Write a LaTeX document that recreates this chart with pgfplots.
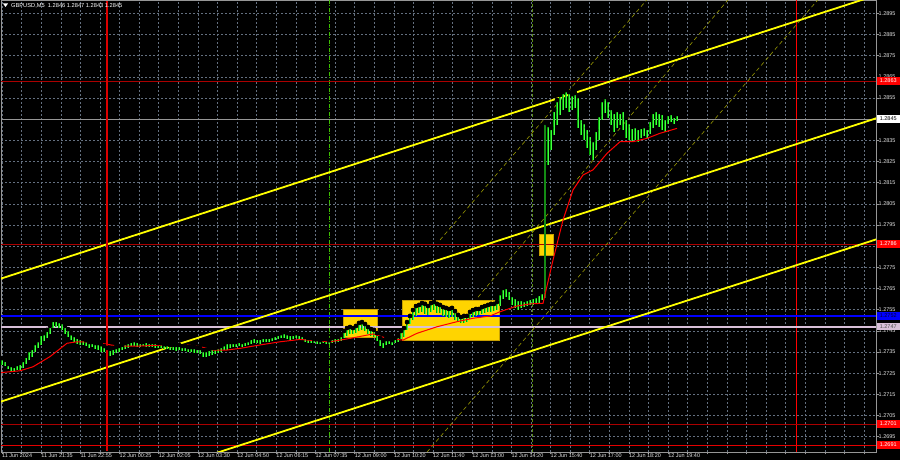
\documentclass[border=0pt]{standalone}
\usepackage{fontspec}
\setmainfont{Liberation Sans}
\usepackage{pgfplots}
\usepackage{pgfplotstable}
\pgfplotsset{compat=1.18}
\definecolor{gridc}{RGB}{100,112,128}
\definecolor{axisg}{RGB}{150,150,150}
\definecolor{labc}{RGB}{225,225,225}
\definecolor{cgreen}{RGB}{0,165,0}
\definecolor{clime}{RGB}{70,255,70}
\definecolor{darkg}{RGB}{20,140,20}
\definecolor{gold}{RGB}{255,212,0}
\definecolor{goldb}{RGB}{200,160,0}
\definecolor{chyel}{RGB}{255,255,0}
\definecolor{dashyel}{RGB}{150,150,0}
\definecolor{darkred}{RGB}{170,0,0}
\definecolor{vred}{RGB}{220,0,0}
\definecolor{thistle}{RGB}{216,191,216}
\definecolor{vgreen}{RGB}{60,190,0}
\definecolor{vgreen2}{RGB}{90,140,20}
\newcommand{\lab}{\fontsize{5.5}{6}\selectfont}

\pgfplotstableread{
x hi lo
2 1.27321 1.27288
5 1.27312 1.27284
8 1.27293 1.27269
11 1.27288 1.27260
14 1.27284 1.27260
17 1.27293 1.27265
20 1.27298 1.27265
23 1.27312 1.27274
26 1.27331 1.27293
29 1.27359 1.27312
32 1.27369 1.27326
35 1.27392 1.27350
38 1.27406 1.27369
41 1.27435 1.27383
44 1.27439 1.27402
47 1.27454 1.27416
50 1.27473 1.27435
53 1.27501 1.27463
56 1.27501 1.27468
59 1.27496 1.27463
62 1.27491 1.27454
65 1.27473 1.27435
68 1.27458 1.27421
71 1.27439 1.27406
74 1.27430 1.27397
77 1.27421 1.27387
80 1.27416 1.27383
83 1.27411 1.27383
86 1.27406 1.27378
89 1.27397 1.27369
92 1.27397 1.27373
95 1.27392 1.27364
98 1.27392 1.27359
101 1.27387 1.27350
104 1.27378 1.27350
107 1.27369 1.27340
110 1.27364 1.27331
113 1.27369 1.27336
116 1.27373 1.27345
119 1.27378 1.27350
122 1.27383 1.27359
125 1.27392 1.27364
128 1.27397 1.27369
131 1.27402 1.27378
134 1.27406 1.27378
137 1.27402 1.27373
140 1.27397 1.27373
143 1.27397 1.27378
146 1.27402 1.27373
149 1.27397 1.27373
152 1.27397 1.27373
155 1.27397 1.27369
158 1.27392 1.27369
161 1.27392 1.27369
164 1.27387 1.27364
167 1.27387 1.27364
170 1.27383 1.27359
173 1.27383 1.27359
176 1.27383 1.27354
179 1.27383 1.27359
182 1.27378 1.27354
185 1.27378 1.27354
188 1.27373 1.27350
191 1.27373 1.27350
194 1.27373 1.27345
197 1.27369 1.27345
200 1.27369 1.27340
203 1.27359 1.27326
206 1.27359 1.27326
209 1.27364 1.27331
212 1.27369 1.27336
215 1.27369 1.27340
218 1.27373 1.27345
221 1.27378 1.27350
224 1.27387 1.27359
227 1.27397 1.27359
230 1.27397 1.27369
233 1.27397 1.27373
236 1.27397 1.27373
239 1.27402 1.27378
242 1.27397 1.27373
245 1.27402 1.27378
248 1.27406 1.27383
251 1.27416 1.27387
254 1.27421 1.27392
257 1.27416 1.27392
260 1.27416 1.27387
263 1.27421 1.27397
266 1.27421 1.27397
269 1.27421 1.27397
272 1.27425 1.27402
275 1.27430 1.27406
278 1.27435 1.27411
281 1.27439 1.27416
284 1.27444 1.27416
287 1.27439 1.27411
290 1.27435 1.27406
293 1.27435 1.27411
296 1.27439 1.27416
299 1.27435 1.27411
302 1.27430 1.27406
305 1.27421 1.27397
308 1.27416 1.27392
311 1.27416 1.27392
314 1.27411 1.27392
317 1.27411 1.27387
320 1.27406 1.27387
323 1.27411 1.27392
326 1.27411 1.27387
329 1.27406 1.27387
332 1.27416 1.27392
335 1.27421 1.27397
338 1.27421 1.27397
341 1.27430 1.27402
344 1.27449 1.27416
347 1.27463 1.27425
350 1.27468 1.27435
353 1.27463 1.27435
356 1.27473 1.27439
359 1.27487 1.27449
362 1.27491 1.27454
365 1.27482 1.27449
368 1.27468 1.27435
371 1.27458 1.27425
374 1.27454 1.27421
377 1.27439 1.27402
380 1.27416 1.27378
383 1.27402 1.27369
386 1.27411 1.27383
389 1.27411 1.27387
392 1.27406 1.27383
395 1.27416 1.27392
398 1.27425 1.27397
401 1.27449 1.27411
404 1.27463 1.27421
407 1.27491 1.27454
410 1.27520 1.27482
413 1.27548 1.27501
416 1.27567 1.27520
419 1.27572 1.27534
422 1.27581 1.27539
425 1.27577 1.27529
428 1.27567 1.27525
431 1.27581 1.27539
434 1.27586 1.27548
437 1.27577 1.27534
440 1.27572 1.27534
443 1.27562 1.27520
446 1.27558 1.27515
449 1.27553 1.27510
452 1.27558 1.27515
455 1.27543 1.27501
458 1.27525 1.27491
461 1.27515 1.27487
464 1.27520 1.27487
467 1.27520 1.27491
470 1.27539 1.27506
473 1.27548 1.27515
476 1.27553 1.27520
479 1.27553 1.27525
482 1.27562 1.27529
485 1.27567 1.27534
488 1.27572 1.27539
491 1.27577 1.27539
494 1.27577 1.27543
497 1.27586 1.27548
500 1.27628 1.27567
503 1.27652 1.27600
506 1.27657 1.27610
509 1.27643 1.27595
512 1.27619 1.27572
515 1.27610 1.27558
518 1.27600 1.27548
521 1.27600 1.27558
524 1.27595 1.27562
527 1.27600 1.27567
530 1.27605 1.27572
533 1.27610 1.27572
536 1.27614 1.27577
539 1.27624 1.27581
542 1.27633 1.27595
548 1.28422 1.28233
551 1.28408 1.28304
554 1.28493 1.28375
557 1.28540 1.28422
560 1.28564 1.28469
563 1.28578 1.28493
566 1.28587 1.28502
569 1.28578 1.28484
572 1.28568 1.28493
575 1.28573 1.28502
578 1.28559 1.28408
581 1.28455 1.28375
584 1.28436 1.28351
587 1.28408 1.28313
590 1.28375 1.28280
593 1.28351 1.28257
596 1.28399 1.28304
599 1.28469 1.28351
602 1.28540 1.28446
605 1.28554 1.28479
608 1.28540 1.28455
611 1.28502 1.28422
614 1.28484 1.28389
617 1.28493 1.28408
620 1.28484 1.28422
623 1.28493 1.28399
626 1.28455 1.28361
629 1.28436 1.28351
632 1.28413 1.28342
635 1.28417 1.28351
638 1.28408 1.28342
641 1.28413 1.28361
644 1.28417 1.28370
647 1.28408 1.28361
650 1.28446 1.28380
653 1.28484 1.28408
656 1.28493 1.28422
659 1.28484 1.28413
662 1.28479 1.28399
665 1.28455 1.28389
668 1.28474 1.28427
671 1.28479 1.28436
674 1.28465 1.28427
677 1.28474 1.28441
}\candles

\pgfplotstableread{
x y
0 1.27252
20 1.27261
33 1.27280
50 1.27328
67 1.27391
77 1.27398
93 1.27398
117 1.27378
140 1.27378
167 1.27383
187 1.27383
200 1.27375
213 1.27359
227 1.27359
240 1.27367
260 1.27383
280 1.27398
300 1.27409
330 1.27398
350 1.27414
373 1.27435
387 1.27414
403 1.27406
417 1.27438
437 1.27469
457 1.27493
473 1.27509
490 1.27520
500 1.27540
517 1.27567
530 1.27577
543 1.27580
553 1.27784
563 1.27973
573 1.28115
583 1.28186
593 1.28210
607 1.28288
620 1.28343
633 1.28343
647 1.28359
660 1.28383
677 1.28406
}\ma

\begin{document}
\begin{tikzpicture}[x=1pt,y=1pt]
\fill[black] (0,0) rectangle (900,460);
\begin{axis}[
  at={(1pt,8pt)}, anchor=south west,
  scale only axis, width=875pt, height=452pt,
  xmin=1, xmax=876, ymin=1.268774, ymax=1.290126,
  axis line style={draw=axisg, line width=0.6pt},
  xtick={2,41.18,80.36,119.54,158.72,197.9,237.08,276.26,315.44,354.62,393.8,432.98,472.16,511.34,550.52,589.7,628.88,668.06},
  minor xtick={21.59,60.77,99.95,139.13,178.31,217.49,256.67,295.85,335.03,374.21,413.39,452.57,491.75,530.93,570.11,609.29,648.47,687.65,707.24,726.83,746.42,766.01,785.6,805.19,824.78,844.37,863.96},
  xticklabels={11 Jun 2024,11 Jun 21:35,11 Jun 22:55,12 Jun 00:25,12 Jun 02:05,12 Jun 03:30,12 Jun 04:50,12 Jun 06:15,12 Jun 07:35,12 Jun 09:00,12 Jun 10:20,12 Jun 11:40,12 Jun 13:00,12 Jun 14:20,12 Jun 15:40,12 Jun 17:00,12 Jun 18:20,12 Jun 19:40},
  ytick={1.2695,1.2705,1.2715,1.2725,1.2735,1.2745,1.2755,1.2765,1.2775,1.2785,1.2795,1.2805,1.2815,1.2825,1.2835,1.2845,1.2855,1.2865,1.2875,1.2885,1.2895},
  yticklabels={1.2695,1.2705,1.2715,1.2725,1.2735,1.2745,1.2755,1.2765,1.2775,{},1.2795,1.2805,1.2815,1.2825,1.2835,1.2845,1.2855,1.2865,1.2875,1.2885,1.2895},
  xtick pos=bottom, ytick pos=right, yticklabel pos=right,
  tick align=outside, major tick length=2.5pt, minor tick length=2.5pt,
  tick style={draw=axisg, line width=0.5pt},
  grid=both,
  major grid style={draw=gridc, dash pattern=on 2pt off 2pt, line width=0.5pt},
  minor grid style={draw=gridc, dash pattern=on 2pt off 2pt, line width=0.5pt},
  xticklabel style={anchor=north west, font=\lab, text=labc, inner sep=0pt, yshift=1pt},
  yticklabel style={anchor=west, font=\lab, text=labc, inner sep=0pt, xshift=0pt},
]
% background rectangles
\addplot[fill=gold, draw=goldb, line width=0.6pt] coordinates {(343,1.27553) (377,1.27553) (377,1.27421) (343,1.27421)} -- cycle;
\addplot[fill=gold, draw=goldb, line width=0.6pt] coordinates {(402,1.27595) (499,1.27595) (499,1.27406) (402,1.27406)} -- cycle;
\addplot[fill=gold, draw=goldb, line width=0.6pt] coordinates {(539,1.27907) (553,1.27907) (553,1.27805) (539,1.27805)} -- cycle;
% vertical lines
\addplot[draw=red, line width=1pt] coordinates {(796,1.26878) (796,1.29012)};
\addplot[draw=vgreen, line width=0.7pt, dash pattern=on 4pt off 1.5pt on 1pt off 1.5pt] coordinates {(329,1.26878) (329,1.29012)};
\addplot[draw=vgreen2, line width=0.7pt, dash pattern=on 3pt off 2pt] coordinates {(532,1.26878) (532,1.29012)};
% horizontal levels
\addplot[draw=darkred, line width=0.7pt] coordinates {(1,1.2863) (876,1.2863)};
\addplot[draw=darkred, line width=0.7pt] coordinates {(1,1.2786) (876,1.2786)};
\addplot[draw=darkred, line width=0.8pt] coordinates {(1,1.2701) (876,1.2701)};
\addplot[draw=red!90!black, line width=0.9pt] coordinates {(1,1.2691) (876,1.2691)};
\addplot[draw=axisg, line width=0.6pt] coordinates {(1,1.2845) (876,1.2845)};
\addplot[draw=blue, line width=2pt] coordinates {(1,1.2752) (876,1.2752)};
\addplot[draw=thistle, line width=2pt] coordinates {(1,1.2747) (876,1.2747)};
% dashed thin channel
\addplot[draw=dashyel, line width=0.6pt, dash pattern=on 4pt off 3pt] coordinates {(440,1.27879) (651,1.29036)};
\addplot[draw=dashyel, line width=0.6pt, dash pattern=on 4pt off 3pt] coordinates {(478,1.27609) (732,1.29036)};
\addplot[draw=dashyel, line width=0.6pt, dash pattern=on 4pt off 3pt] coordinates {(427,1.26877) (822,1.29036)};
% thick channel
\addplot[draw=chyel, line width=1.8pt] coordinates {(0,1.27695) (877,1.29036)};
\addplot[draw=chyel, line width=1.8pt] coordinates {(0,1.27114) (877,1.28455)};
\addplot[draw=chyel, line width=1.8pt] coordinates {(0,1.26542) (877,1.27883)};
% candles
\addplot[only marks, mark=none,
  error bars/.cd, y dir=minus, y explicit, error mark=none,
  error bar style={line width=1.2pt, draw=cgreen}]
  table[x=x, y=hi, y error minus expr=\thisrow{hi}-\thisrow{lo}] {\candles};
\addplot[only marks, mark=none,
  error bars/.cd, y dir=minus, y explicit, error mark=none,
  error bar style={line width=0.5pt, draw=clime}]
  table[x=x, y=hi, y error minus expr=\thisrow{hi}-\thisrow{lo}] {\candles};
\addplot[only marks, mark=none,
  error bars/.cd, y dir=minus, y explicit, error mark=none,
  error bar style={line width=2.3pt, draw=darkg}]
  coordinates {(545,1.28432) -= (0,0.00827)};
% moving average
\addplot[draw=red, line width=1pt] table[x=x, y=y] {\ma};
% left red vertical line, drawn over the candles
\addplot[color=vred, solid, line width=1.1pt] coordinates {(107,1.26880) (107,1.29010)};
\coordinate (l1) at (axis cs:876,1.2863);
\coordinate (l2) at (axis cs:876,1.2845);
\coordinate (l3) at (axis cs:876,1.2786);
\coordinate (l4) at (axis cs:876,1.2752);
\coordinate (l5) at (axis cs:876,1.2747);
\coordinate (l6) at (axis cs:876,1.2701);
\coordinate (l7) at (axis cs:876,1.2691);
\end{axis}
\tikzset{pl/.style={anchor=west, font=\lab, inner sep=0pt, minimum height=7.5pt, minimum width=23pt, xshift=0.5pt}}
\node[pl, fill=red, text=white] at (l1) {1.2863};
\node[pl, fill=white, text=black] at (l2) {1.2845};
\node[pl, fill=red, text=white] at (l3) {1.2786};
\node[pl, fill=blue, text=black!80!blue] at (l4) {1.2752};
\node[pl, fill=thistle, text=black!70] at (l5) {1.2747};
\node[pl, fill=red, text=white] at (l6) {1.2701};
\node[pl, fill=red, text=white] at (l7) {1.2691};
\fill[white] (3,456.5) -- (8,456.5) -- (5.5,453) -- cycle;
\node[anchor=west, font=\fontsize{5.7}{6}\selectfont, text=white, inner sep=0pt] at (11,454.5) {GBPUSD,M5\ \ 1.2846 1.2847 1.2843 1.2845};
\pgfresetboundingbox
\useasboundingbox (0,0) rectangle (900,460);
\end{tikzpicture}
\end{document}
